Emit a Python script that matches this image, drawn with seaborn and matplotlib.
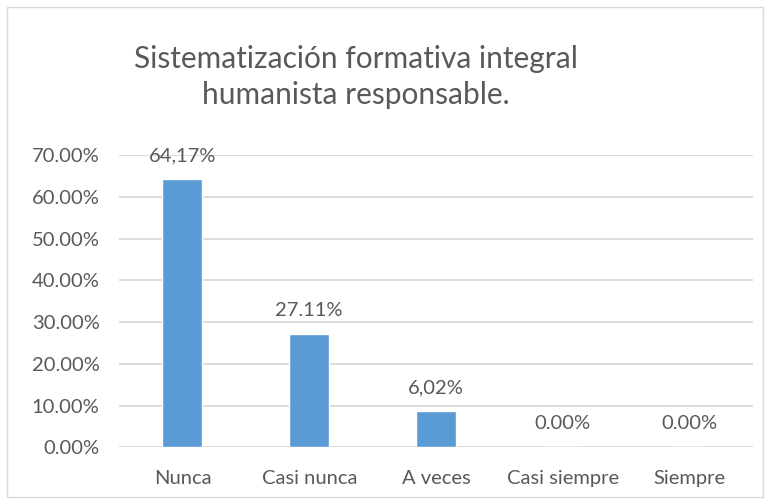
import pandas as pd
import numpy as np
import matplotlib.pyplot as plt
import seaborn as sns
from matplotlib.ticker import FuncFormatter
from matplotlib.patches import Rectangle

categorias = ['Nunca', 'Casi nunca', 'A veces', 'Casi siempre', 'Siempre']
valores = [64.17, 27.11, 8.6, 0.0, 0.0]
etiquetas = ['64,17%', '27.11%', '6,02%', '0.00%', '0.00%']

df = pd.DataFrame({'categoria': categorias, 'valor': valores})

sns.set_style('white')
plt.rcParams['font.family'] = ['Lato', 'DejaVu Sans']
gris = '#595959'

fig = plt.figure(figsize=(7.71, 5.04), dpi=100)
ax = fig.add_axes([119 / 771, 1 - 447.3 / 504, 634 / 771, 292.3 / 504])

sns.barplot(data=df, x='categoria', y='valor', color='#5B9BD5', width=0.315,
            saturation=1, ax=ax, zorder=3)

ax.set_ylim(0, 70)
ax.set_yticks(np.arange(0, 71, 10))
ax.yaxis.set_major_formatter(FuncFormatter(lambda v, p: f'{v:.2f}%'))
ax.grid(axis='y', color='#D9D9D9', linewidth=1.3, zorder=0)
ax.set_axisbelow(True)
for s in ax.spines.values():
    s.set_visible(False)
ax.tick_params(axis='y', length=0, pad=14, labelsize=14.5, labelcolor=gris)
ax.tick_params(axis='x', length=0, pad=16, labelsize=14.5, labelcolor=gris)
ax.set_xlabel('')
ax.set_ylabel('')

for i, (v, t) in enumerate(zip(valores, etiquetas)):
    ax.annotate(t, (i, v), xytext=(0, 17), textcoords='offset points',
                ha='center', va='center', fontsize=14.5, color=gris)

fig.text(356 / 771, 1 - 77 / 504, 'Sistematización formativa integral\nhumanista responsable.',
         ha='center', va='center', fontsize=21.5, color=gris, linespacing=1.38)

fig.patches.append(Rectangle((7 / 771, 7 / 504), 756 / 771, 490 / 504,
                             transform=fig.transFigure, fill=False,
                             edgecolor='#D9D9D9', linewidth=1))

plt.savefig('out.png', dpi=100)
